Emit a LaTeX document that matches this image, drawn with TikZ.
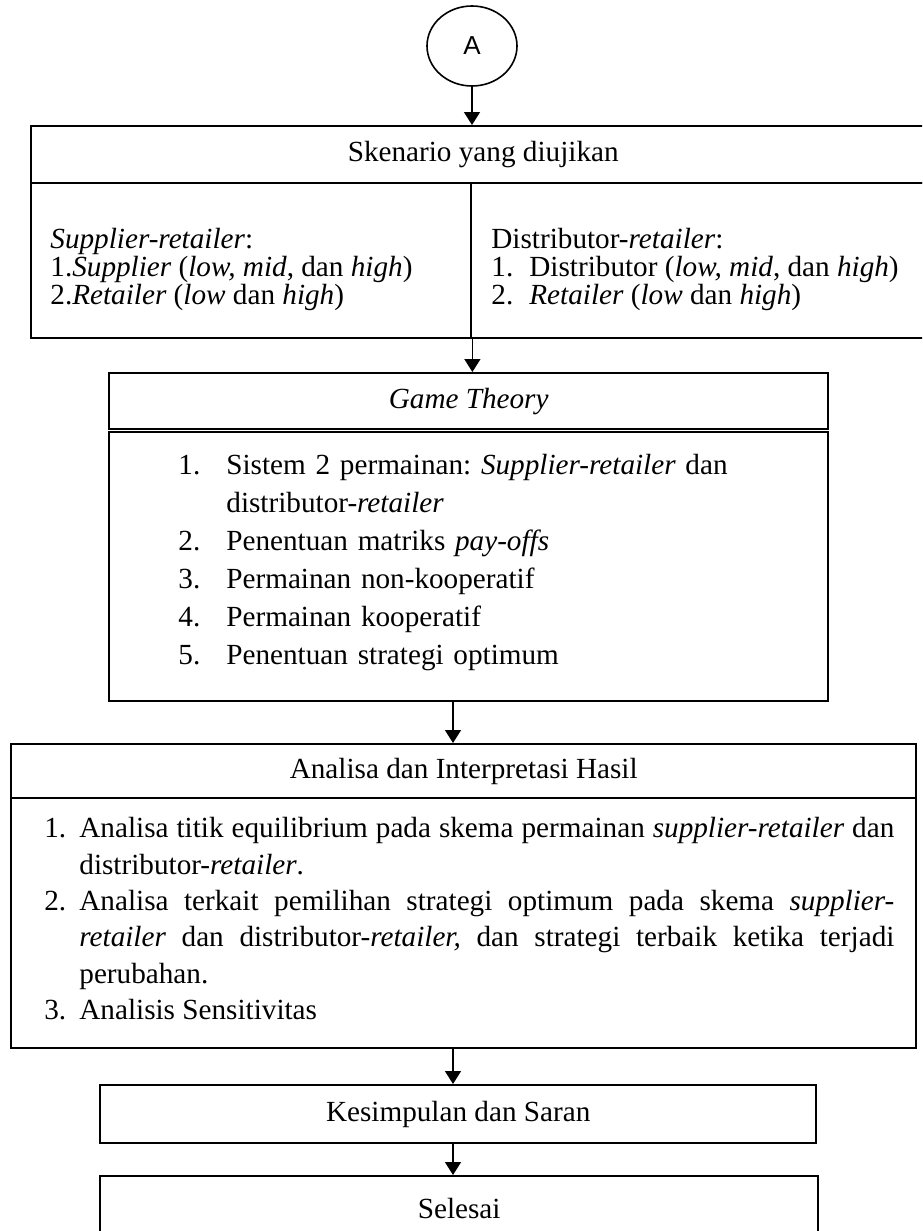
\documentclass[tikz,border=0pt]{standalone}
\usepackage{fontspec}
\setmainfont{Liberation Serif}
\newfontfamily\arialfont{Liberation Sans}
\usepackage{tikz}
\usetikzlibrary{shapes.geometric}
\usetikzlibrary{arrows.meta}
\usetikzlibrary{positioning}

\frenchspacing
\newcommand{\numitem}[3]{\hangindent=#1\hangafter=1\noindent\makebox[#1][l]{#2}#3\par}

\begin{document}
\begin{tikzpicture}[
  x=0.5pt, y=-0.5pt,
  every node/.style={font=\fontsize{14.6}{17}\selectfont, inner sep=0pt},
  box/.style={draw, line width=1.2pt, rectangle, anchor=north west},
  flowarrow/.style={-{Triangle[length=6.5pt,width=8pt]}, line width=0.75pt}
]
\clip (0,0) rectangle (922,1231);
\coordinate (axis) at (453,0);

% start connector
\node[draw, ellipse, line width=0.8pt, minimum width=45pt, minimum height=40pt,
  font=\arialfont\fontsize{13}{15}\selectfont] (conA) at (472,46) {A};

% skenario
\node[box, minimum width=452pt, minimum height=28.5pt] (skenhead) at (30,125) {Skenario yang diujikan};
\node[box, minimum width=220pt, minimum height=77.5pt] (skenleft) at (30,182) {};
\node[box, minimum width=232pt, minimum height=77.5pt] (skenright) at (470,182) {};
\node[anchor=north west, align=left, font=\fontsize{14.6}{14}\selectfont] (supplist) at (50,228)
  {\textit{Supplier-retailer}:\\
   1.\textit{Supplier} (\textit{low, mid}, dan \textit{high})\\
   2.\textit{Retailer} (\textit{low} dan \textit{high})};
\node[anchor=north west, align=left, font=\fontsize{14.6}{14}\selectfont] (distlist) at (491,228)
  {Distributor-\textit{retailer}:\\
   \makebox[19pt][l]{1.}Distributor (\textit{low, mid}, dan \textit{high})\\
   \makebox[19pt][l]{2.}\textit{Retailer} (\textit{low} dan \textit{high})};

% game theory
\node[box, minimum width=359.5pt, minimum height=28pt] (gthead) at (108,372) {\textit{Game Theory}};
\node[box, minimum width=359.5pt, minimum height=134.5pt] (gtbody) at (108,431) {};
\node[anchor=north west, text width=300pt, align=left, font=\fontsize{14.6}{19}\selectfont] (gtlist) at (178,454)
  {\numitem{24pt}{1.}{Sistem 2 permainan: \textit{Supplier-retailer} dan\newline distributor-\textit{retailer}}
   \numitem{24pt}{2.}{Penentuan matriks \textit{pay-offs}}
   \numitem{24pt}{3.}{Permainan non-kooperatif}
   \numitem{24pt}{4.}{Permainan kooperatif}
   \numitem{24pt}{5.}{Penentuan strategi optimum}};

% analisa
\node[box, minimum width=452.5pt, minimum height=27pt] (analhead) at (10,743) {Analisa dan Interpretasi Hasil};
\node[box, minimum width=452.5pt, minimum height=125pt] (analbody) at (10,797) {};
\node[anchor=north west, text width=425pt, align=justify, font=\fontsize{14.6}{18.2}\selectfont] (anallist) at (44,817)
  {\numitem{17.5pt}{1.}{Analisa titik equilibrium pada skema permainan \textit{supplier-retailer} dan\linebreak
     distributor-\textit{retailer}.}
   \numitem{17.5pt}{2.}{Analisa terkait pemilihan strategi optimum pada skema \textit{supplier-}\linebreak
     \textit{retailer} dan distributor-\textit{retailer,} dan strategi terbaik ketika terjadi\linebreak
     perubahan.}
   \numitem{17.5pt}{3.}{Analisis Sensitivitas}};

% penutup
\node[box, minimum width=358pt, minimum height=29pt] (kesbox) at (99,1084) {Kesimpulan dan Saran};
\node[box, minimum width=359pt, minimum height=32pt] (selbox) at (99,1175) {Selesai};

% connectors
\draw[flowarrow] (conA.south) -- (conA.south |- skenhead.north);
\draw[flowarrow] (skenleft.south east) -- (skenleft.south east |- gthead.north);
\draw[flowarrow] (gtbody.south -| axis) -- (analhead.north -| axis);
\draw[flowarrow] (analbody.south -| axis) -- (kesbox.north -| axis);
\draw[flowarrow] (kesbox.south -| axis) -- (selbox.north -| axis);
\end{tikzpicture}
\end{document}
